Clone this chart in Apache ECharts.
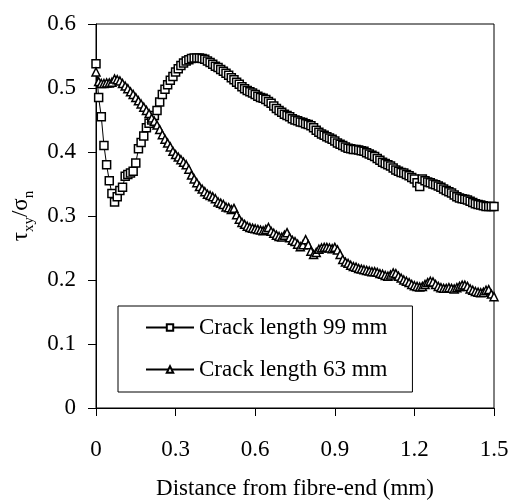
<!DOCTYPE html>
<html>
<head>
<meta charset="utf-8">
<script src="https://cdn.jsdelivr.net/npm/echarts@6/dist/echarts.min.js"></script>
<style>html,body{margin:0;padding:0;background:#fff;}#c{width:511px;height:500px;}</style>
</head>
<body>
<div id="c"></div>
<script>
const xValues = [0,0.01,0.02,0.03,0.04,0.05,0.06,0.07,0.08,0.09,
0.1,0.11,0.12,0.13,0.14,0.15,0.16,0.17,0.18,0.19,
0.2,0.21,0.22,0.23,0.24,0.25,0.26,0.27,0.28,0.29,
0.3,0.31,0.32,0.33,0.34,0.35,0.36,0.37,0.38,0.39,
0.4,0.41,0.42,0.43,0.44,0.45,0.46,0.47,0.48,0.49,
0.5,0.51,0.52,0.53,0.54,0.55,0.56,0.57,0.58,0.59,
0.6,0.61,0.62,0.63,0.64,0.65,0.66,0.67,0.68,0.69,
0.7,0.71,0.72,0.73,0.74,0.75,0.76,0.77,0.78,0.79,
0.8,0.81,0.82,0.83,0.84,0.85,0.86,0.87,0.88,0.89,
0.9,0.91,0.92,0.93,0.94,0.95,0.96,0.97,0.98,0.99,
1,1.01,1.02,1.03,1.04,1.05,1.06,1.07,1.08,1.09,
1.1,1.11,1.12,1.13,1.14,1.15,1.16,1.17,1.18,1.19,
1.2,1.21,1.22,1.23,1.24,1.25,1.26,1.27,1.28,1.29,
1.3,1.31,1.32,1.33,1.34,1.35,1.36,1.37,1.38,1.39,
1.4,1.41,1.42,1.43,1.44,1.45,1.46,1.47,1.48,1.49,1.5];

const crack99 = [0.538,0.485,0.455,0.41,0.38,0.355,0.335,0.322,0.33,0.34,
0.345,0.362,0.365,0.367,0.37,0.383,0.405,0.415,0.425,0.438,
0.445,0.45,0.457,0.465,0.478,0.49,0.498,0.505,0.512,0.518,
0.525,0.53,0.535,0.539,0.542,0.544,0.546,0.547,0.547,0.547,
0.546,0.545,0.542,0.54,0.537,0.534,0.532,0.529,0.526,0.523,
0.52,0.516,0.513,0.509,0.506,0.502,0.499,0.496,0.494,0.492,
0.49,0.487,0.485,0.484,0.482,0.479,0.476,0.472,0.468,0.465,
0.462,0.459,0.457,0.455,0.452,0.45,0.449,0.447,0.446,0.444,
0.443,0.441,0.438,0.434,0.431,0.428,0.426,0.424,0.422,0.42,
0.417,0.414,0.412,0.41,0.408,0.406,0.405,0.404,0.404,0.403,
0.402,0.401,0.399,0.397,0.395,0.393,0.39,0.387,0.384,0.382,
0.38,0.378,0.375,0.372,0.37,0.368,0.367,0.365,0.363,0.36,
0.358,0.352,0.346,0.358,0.355,0.353,0.352,0.35,0.349,0.347,
0.345,0.342,0.34,0.338,0.336,0.333,0.33,0.328,0.327,0.326,
0.325,0.323,0.321,0.319,0.318,0.317,0.316,0.315,0.315,0.315,0.315];

const crack63 = [0.525,0.51,0.507,0.507,0.508,0.508,0.509,0.514,0.513,0.511,
0.507,0.503,0.499,0.494,0.49,0.485,0.48,0.475,0.47,0.465,
0.46,0.453,0.448,0.442,0.435,0.427,0.42,0.414,0.408,0.401,
0.396,0.392,0.388,0.384,0.38,0.373,0.364,0.358,0.352,0.346,
0.342,0.338,0.334,0.332,0.33,0.327,0.322,0.32,0.318,0.314,
0.313,0.31,0.312,0.302,0.295,0.29,0.287,0.284,0.282,0.281,
0.28,0.279,0.278,0.277,0.279,0.282,0.276,0.273,0.27,0.268,
0.267,0.27,0.274,0.266,0.262,0.26,0.256,0.252,0.255,0.263,
0.255,0.245,0.24,0.243,0.248,0.25,0.251,0.251,0.25,0.249,
0.251,0.247,0.24,0.232,0.228,0.226,0.223,0.221,0.22,0.218,
0.217,0.216,0.215,0.214,0.213,0.213,0.212,0.21,0.209,0.207,
0.206,0.208,0.211,0.21,0.206,0.203,0.2,0.198,0.196,0.193,
0.191,0.19,0.189,0.19,0.193,0.196,0.198,0.197,0.193,0.19,
0.188,0.187,0.187,0.188,0.187,0.186,0.188,0.19,0.192,0.192,
0.19,0.186,0.184,0.182,0.181,0.18,0.181,0.184,0.185,0.178,0.174];

const seriesNames = ['Crack length 99 mm', 'Crack length 63 mm'];
const xTicks = [0, 0.3, 0.6, 0.9, 1.2, 1.5];
const yTicks = [0, 0.1, 0.2, 0.3, 0.4, 0.5, 0.6];

const FONT = "'Liberation Serif', 'Times New Roman', serif";
const pairs = (ys) => xValues.map((x, i) => [x, ys[i]]);

const chart = echarts.init(document.getElementById('c'), null, {renderer: 'canvas'});
chart.setOption({
  animation: false,
  backgroundColor: '#fff',
  textStyle: {fontFamily: FONT, color: '#000'},
  grid: {left: 96, right: 17, top: 24, bottom: 92, containLabel: false, outerBoundsMode: 'none',
         show: true, borderColor: '#000', borderWidth: 1, backgroundColor: 'transparent'},
  xAxis: {
    type: 'value', min: xTicks[0], max: xTicks[xTicks.length - 1], interval: 0.3,
    name: 'Distance from fibre-end (mm)', nameLocation: 'middle', nameGap: 69,
    nameTextStyle: {fontFamily: FONT, fontSize: 23, color: '#000'},
    axisLine: {show: true, lineStyle: {color: '#000', width: 1}},
    axisTick: {show: true, inside: false, length: 8, lineStyle: {color: '#000', width: 1}},
    axisLabel: {fontFamily: FONT, fontSize: 23, color: '#000', margin: 30,
                formatter: (v) => String(Math.round(v * 10) / 10)},
    splitLine: {show: false}
  },
  yAxis: {
    type: 'value', min: yTicks[0], max: yTicks[yTicks.length - 1], interval: 0.1,
    name: '{a|τ}{s|xy}{a|/σ}{s|n}', nameLocation: 'middle', nameGap: 55, nameRotate: 90,
    nameTextStyle: {
      fontFamily: FONT, color: '#000',
      rich: {
        a: {fontFamily: FONT, fontSize: 23, color: '#000', lineHeight: 30, verticalAlign: 'middle'},
        s: {fontFamily: FONT, fontSize: 15, color: '#000', lineHeight: 14, verticalAlign: 'bottom'}
      }
    },
    axisLine: {show: true, lineStyle: {color: '#000', width: 1}},
    axisTick: {show: true, inside: false, length: 8, lineStyle: {color: '#000', width: 1}},
    axisLabel: {fontFamily: FONT, fontSize: 23, color: '#000', margin: 20,
                formatter: (v) => String(Math.round(v * 10) / 10)},
    splitLine: {show: false}
  },
  legend: {
    orient: 'vertical', left: 118, top: 306,
    padding: [10, 25, 11, 27], itemGap: 19,
    itemWidth: 48, itemHeight: 8,
    backgroundColor: '#fff', borderColor: '#000', borderWidth: 1, borderRadius: 0,
    textStyle: {fontFamily: FONT, fontSize: 23, color: '#000'},
    data: seriesNames
  },
  series: [
    {
      name: seriesNames[0], type: 'line', data: pairs(crack99),
      symbol: 'rect', symbolSize: 8, showSymbol: true, showAllSymbol: true,
      lineStyle: {color: '#000', width: 1},
      itemStyle: {color: '#fff', borderColor: '#000', borderWidth: 1.5},
      emphasis: {disabled: true}
    },
    {
      name: seriesNames[1], type: 'line', data: pairs(crack63),
      symbol: 'triangle', symbolSize: 8, showSymbol: true, showAllSymbol: true,
      lineStyle: {color: '#000', width: 1},
      itemStyle: {color: '#fff', borderColor: '#000', borderWidth: 1.5},
      emphasis: {disabled: true}
    }
  ]
});
</script>
</body>
</html>
